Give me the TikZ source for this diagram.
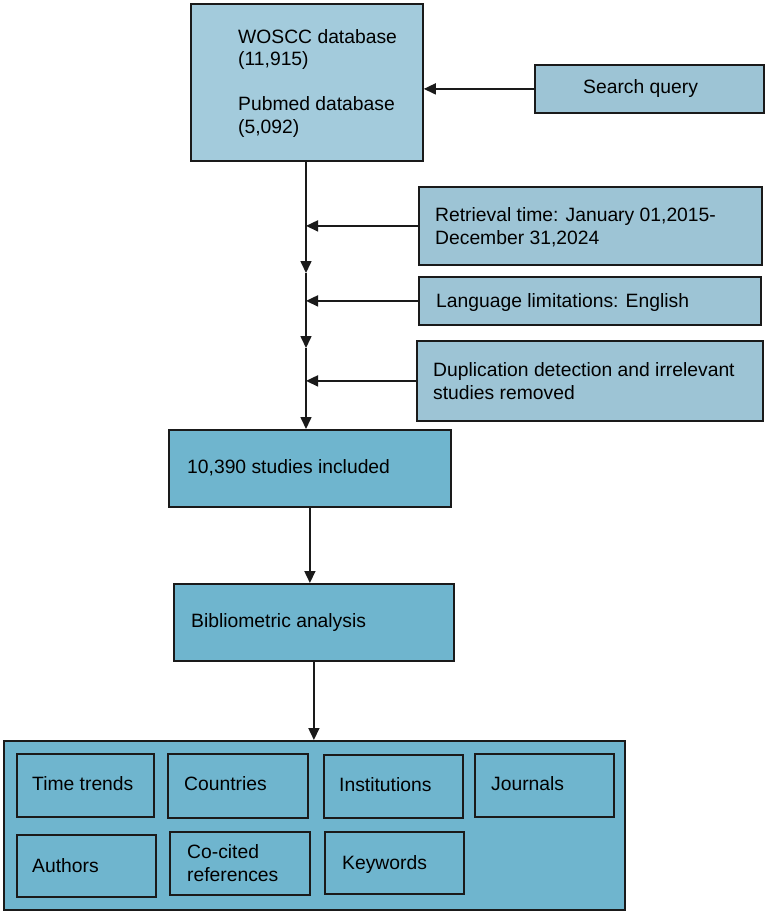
\documentclass[tikz,border=0pt]{standalone}
\usepackage{fontspec}
\setmainfont{Liberation Sans}
\usetikzlibrary{positioning, calc, arrows.meta}
\definecolor{paleblue}{HTML}{A3CBDC}
\definecolor{stepblue}{HTML}{9DC4D5}
\definecolor{mainblue}{HTML}{6FB5CE}
\definecolor{edgegray}{HTML}{1A1A1A}
\tikzset{
    pale box/.style={draw=edgegray, fill=stepblue, line width=1.8pt, anchor=north west, inner sep=0pt},
    main box/.style={pale box, fill=mainblue},
    box text/.style={anchor=west, align=left, inner sep=0pt, font=\fontsize{19.3}{22.5}\selectfont},
    flow arrow/.style={draw=edgegray, line width=1.6pt, -{Triangle[length=12pt, width=11pt]}},
}

\begin{document}
\begin{tikzpicture}[x=1pt, y=-1pt]
    \useasboundingbox (0,0) rectangle (767,914);
    % search
    \node[pale box, fill=paleblue, minimum width=232pt, minimum height=157pt] (woscc) at (190,3) {};
    \node[box text] (woscc text) at (238,83) {WOSCC database\\(11,915)\\[22.5pt]Pubmed database\\(5,092)};
    \node[pale box, minimum width=229pt, minimum height=48pt] (query) at (534,64) {};
    \node[box text, anchor=base west] (query text) at (583,93) {Search query};
    % filters
    \node[pale box, minimum width=343pt, minimum height=78pt] (retrieval) at (418,186) {};
    \node[box text] (retrieval text) at (435,227) {Retrieval time: January 01,2015-\\December 31,2024};
    \node[pale box, minimum width=342pt, minimum height=48pt] (language) at (418,276) {};
    \node[box text, anchor=base west] (language text) at (436,307) {Language limitations: English};
    \node[pale box, minimum width=346pt, minimum height=80pt] (duplication) at (416,340) {};
    \node[box text] (duplication text) at (433,381) {Duplication detection and irrelevant\\studies removed};
    % results
    \node[main box, minimum width=282pt, minimum height=77pt] (included) at (168,429) {};
    \node[box text, anchor=base west] (included text) at (187,473) {10,390 studies included};
    \node[main box, minimum width=280pt, minimum height=77pt] (bibliometric) at (173,583) {};
    \node[box text, anchor=base west] (bibliometric text) at (191,627) {Bibliometric analysis};
    \node[main box, minimum width=621pt, minimum height=169pt] (analysis) at (3,740) {};
    \node[main box, minimum width=137pt, minimum height=63pt] (trends) at (16,753) {};
    \node[box text, anchor=base west] (trends text) at (32,790) {Time trends};
    \node[main box, minimum width=140pt, minimum height=64pt] (countries) at (167,753) {};
    \node[box text, anchor=base west] (countries text) at (184,790) {Countries};
    \node[main box, minimum width=139pt, minimum height=63pt] (institutions) at (323,754) {};
    \node[box text, anchor=base west] (institutions text) at (339,791) {Institutions};
    \node[main box, minimum width=139pt, minimum height=63pt] (journals) at (474,753) {};
    \node[box text, anchor=base west] (journals text) at (491,790) {Journals};
    \node[main box, minimum width=139pt, minimum height=62pt] (authors) at (16,834) {};
    \node[box text, anchor=base west] (authors text) at (32,872) {Authors};
    \node[main box, minimum width=140pt, minimum height=63pt] (cocited) at (169,831) {};
    \node[box text] (cocited text) at (187,863) {Co-cited\\references};
    \node[main box, minimum width=139pt, minimum height=62pt] (keywords) at (324,831) {};
    \node[box text, anchor=base west] (keywords text) at (342,869) {Keywords};
    % arrows
    \coordinate (split1) at (306,273);
    \coordinate (split2) at (306,348);
    \draw[flow arrow] (query.west) -- (query.west -| woscc.east);
    \draw[flow arrow] (woscc.south -| split1) -- (split1);
    \draw[flow arrow] (split1) -- (split2);
    \draw[flow arrow] (split2) -- (split2 |- included.north);
    \draw[flow arrow] (retrieval.west) -- (retrieval.west -| split1);
    \draw[flow arrow] (language.west) -- (language.west -| split1);
    \draw[flow arrow] (duplication.west) -- (duplication.west -| split1);
    \draw[flow arrow] (included.south) -- (included.south |- bibliometric.north);
    \draw[flow arrow] (bibliometric.south) -- (bibliometric.south |- analysis.north);
\end{tikzpicture}
\end{document}
